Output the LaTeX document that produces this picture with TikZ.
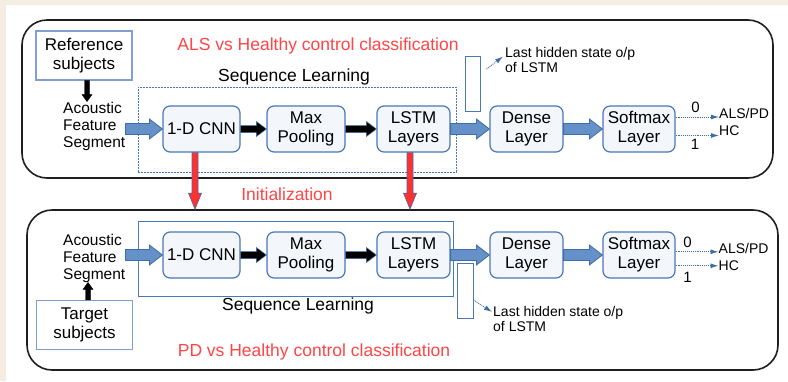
\documentclass[tikz,border=0pt]{standalone}
\usepackage{fontspec}
\setmainfont{Liberation Sans}
\usetikzlibrary{calc}
\usetikzlibrary{arrows.meta}

\definecolor{bgbeige}{HTML}{F5ECE2}
\definecolor{boxblue}{HTML}{4A78B4}
\definecolor{boxfill}{HTML}{F3F7FC}
\definecolor{refblue}{HTML}{7FA0CF}
\definecolor{arrowfill}{HTML}{6690C8}
\definecolor{arrowline}{HTML}{3F6DA8}
\definecolor{arrowred}{HTML}{FF3030}
\definecolor{textred}{HTML}{FF4545}

\tikzset{
  panel/.style={draw=black!88, line width=1.6pt, rounded corners=25pt},
  seqbox/.style={draw=boxblue, line width=1pt},
  layer/.style={draw=boxblue, fill=boxfill, line width=1.2pt, rounded corners=7pt,
    minimum height=46pt, inner sep=0pt, align=center, font=\fontsize{17}{19}\selectfont},
  refbox/.style={draw=refblue, fill=white, line width=1.2pt, minimum width=96pt,
    minimum height=49pt, inner sep=0pt, align=center, font=\fontsize{17}{19}\selectfont},
  hidbox/.style={draw=boxblue, fill=white, line width=1pt},
  feat/.style={align=left, inner sep=0pt, font=\fontsize{15.5}{17}\selectfont},
  small/.style={align=left, inner sep=0pt, font=\fontsize{14}{15}\selectfont},
  label/.style={inner sep=0pt, font=\fontsize{17.5}{19}\selectfont},
  redtitle/.style={label, text=textred},
  fatarrow/.style n args={3}{to path={
    ($(\tikztostart)!#1!90:(\tikztotarget)$)
    -- ($($(\tikztotarget)!#3!(\tikztostart)$)!#1!90:(\tikztotarget)$)
    -- ($($(\tikztotarget)!#3!(\tikztostart)$)!#2!90:(\tikztotarget)$)
    -- (\tikztotarget)
    -- ($($(\tikztotarget)!#3!(\tikztostart)$)!#2!-90:(\tikztotarget)$)
    -- ($($(\tikztotarget)!#3!(\tikztostart)$)!#1!-90:(\tikztotarget)$)
    -- ($(\tikztostart)!#1!-90:(\tikztotarget)$) -- cycle}},
  bluearrow/.style={fatarrow={5.5pt}{10pt}{13pt}, fill=arrowfill, draw=arrowline, line width=.8pt},
  blackarrow/.style={fatarrow={3.5pt}{7.5pt}{10pt}, fill=black, draw=arrowline, line width=.5pt},
  redarrow/.style={fatarrow={3pt}{6.5pt}{16pt}, fill=arrowred, draw=arrowline, line width=.6pt},
  smallarrow/.style={fatarrow={2.5pt}{5pt}{7pt}, fill=black},
  dotarrow/.style={draw=arrowline, densely dotted, line width=.9pt, -{Latex[length=8pt,width=5pt]}}
}

\begin{document}
\begin{tikzpicture}[x=1pt,y=-1pt]
\useasboundingbox (0,0) rectangle (788,381);
\fill[bgbeige] (0,0) rectangle (788,381);
\fill[white] (6,5) rectangle (788,381);

% ALS panel
\node[panel, minimum width=751pt, minimum height=158pt] (panel1) at (397.5,99) {};
\node[redtitle] (title1) at (318,45.5) {ALS vs Healthy control classification};
\node[refbox] (ref1) at (84,55.5) {Reference\\subjects};
\node[feat, anchor=west] (feat1) at (63,126) {Acoustic\\Feature\\Segment};
\node[seqbox, dash pattern=on 2pt off 1pt, minimum width=318pt, minimum height=85pt] (seq1) at (297,129.5) {};
\node[label] (seqlab1) at (294,77) {Sequence Learning};
\node[layer, minimum width=77pt] (cnn1) at (201.5,129) {1-D CNN};
\node[layer, minimum width=78pt] (pool1) at (306,129) {Max\\Pooling};
\node[layer, minimum width=73pt] (lstm1) at (413.5,129) {LSTM\\Layers};
\node[layer, minimum width=73pt] (dense1) at (526.5,129) {Dense\\Layer};
\node[layer, minimum width=72pt] (soft1) at (639,129) {Softmax\\Layer};
\node[hidbox, minimum width=15pt, minimum height=55pt] (hid1) at (472.5,83.5) {};
\node[small, anchor=west] (last1) at (505,59.5) {Last hidden state o/p\\of LSTM};
\node[small, anchor=west] (als1) at (719,113) {ALS/PD};
\node[small, anchor=west] (hc1) at (719,131) {HC};
\node[label, font=\fontsize{15}{15}\selectfont] at (695.5,107.5) {0};
\node[label, font=\fontsize{15}{15}\selectfont] at (695,144.5) {1};

\draw[smallarrow] ([xshift=3pt]ref1.south) to ([xshift=3pt]ref1.south |- feat1.north);
\draw[bluearrow] (feat1.east |- cnn1.west) to (cnn1.west);
\draw[blackarrow] (cnn1.east) to (pool1.west);
\draw[blackarrow] (pool1.east) to (lstm1.west);
\draw[bluearrow] (lstm1.east) to (dense1.west);
\draw[bluearrow] (dense1.east) to (soft1.west);
\draw[dotarrow] ([xshift=6pt,yshift=14.5pt]hid1.east) -- ([xshift=-2pt,yshift=3pt]last1.west);
\draw[dotarrow] ([yshift=-4pt]soft1.east |- als1.west) -- ([yshift=-4pt]als1.west);
\draw[dotarrow] ([yshift=-4.5pt]soft1.east |- hc1.west) -- ([yshift=-4.5pt]hc1.west);

% PD panel
\node[panel, minimum width=751pt, minimum height=160pt] (panel2) at (402.5,290) {};
\node[redtitle] (title2) at (314,351.5) {PD vs Healthy control classification};
\node[refbox] (tgt2) at (84.5,325) {Target\\subjects};
\node[feat, anchor=west] (feat2) at (63,258) {Acoustic\\Feature\\Segment};
\node[seqbox, minimum width=315pt, minimum height=75pt] (seq2) at (295.5,258.5) {};
\node[label] (seqlab2) at (298,306) {Sequence Learning};
\node[layer, minimum width=77pt] (cnn2) at (201.5,255) {1-D CNN};
\node[layer, minimum width=78pt] (pool2) at (306,255) {Max\\Pooling};
\node[layer, minimum width=73pt] (lstm2) at (413.5,255) {LSTM\\Layers};
\node[layer, minimum width=73pt] (dense2) at (526.5,255) {Dense\\Layer};
\node[layer, minimum width=72pt] (soft2) at (639,255) {Softmax\\Layer};
\node[hidbox, minimum width=16pt, minimum height=55pt] (hid2) at (465,290.5) {};
\node[small, anchor=west] (last2) at (493,319) {Last hidden state o/p\\of LSTM};
\node[small, anchor=west] (als2) at (718.5,248.3) {ALS/PD};
\node[small, anchor=west] (hc2) at (718.5,265.8) {HC};
\node[label, font=\fontsize{15}{15}\selectfont] at (687.5,242) {0};
\node[label, font=\fontsize{15}{15}\selectfont] at (687.5,277) {1};

\draw[smallarrow] ([xshift=3.5pt]tgt2.north) to ([xshift=3.5pt]tgt2.north |- feat2.south);
\draw[bluearrow] (feat2.east |- cnn2.west) to (cnn2.west);
\draw[blackarrow] (cnn2.east) to (pool2.west);
\draw[blackarrow] (pool2.east) to (lstm2.west);
\draw[bluearrow] (lstm2.east) to (dense2.west);
\draw[bluearrow] (dense2.east) to (soft2.west);
\draw[dotarrow] ([yshift=-9.5pt]hid2.east) -- ([xshift=-1pt,yshift=7pt]last2.west);
\draw[dotarrow] ([yshift=-3.5pt]soft2.east |- als2.west) -- ([yshift=-3.5pt]als2.west);
\draw[dotarrow] (soft2.east |- hc2.west) -- (hc2.west);

% initialization
\node[redtitle] (init) at (287,194) {Initialization};
\draw[redarrow] ([xshift=-6.5pt]cnn1.south) to ([xshift=-6.5pt]cnn1.south |- panel2.north);
\draw[redarrow] ([xshift=-3.5pt]lstm1.south) to ([xshift=-3.5pt]lstm1.south |- panel2.north);
\end{tikzpicture}
\end{document}
